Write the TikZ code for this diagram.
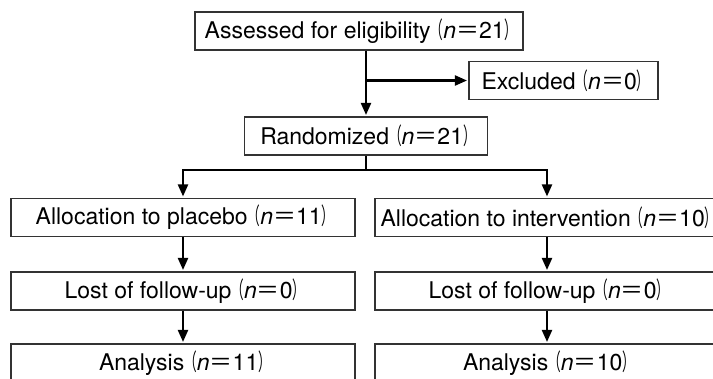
\documentclass[tikz,border=0pt]{standalone}
\usepackage{fontspec}
\setmainfont{TeX Gyre Heros}
\newfontfamily\cjk{Noto Sans CJK JP}
\newfontfamily\cjknarrow[FakeStretch=0.55]{Noto Sans CJK JP}
\usetikzlibrary{arrows.meta}

% sample size in full-width brackets
\newcommand{\nval}[1]{{\cjknarrow （}\textit{n}{\cjk ＝}#1{\cjknarrow ）}\kern-4pt}

\tikzset{
  stage/.style={draw=black!80, line width=1.1pt, minimum height=38pt, inner sep=0pt,
    font=\fontsize{23}{26}\selectfont},
  flow/.style={line width=2.2pt, ->, shorten >=1.5pt},
}

\begin{document}
\begin{tikzpicture}[x=1pt, y=-1pt, >={Triangle[width=10pt,length=12pt]}]
  \useasboundingbox (0,0) rectangle (713,378);

  \node[stage, minimum width=328pt] (assess) at (359,31) {Assessed for eligibility\nval{21}};
  \node[stage, minimum width=189pt] (excl) at (563.5,80.5) {Excluded\nval{0}};
  \node[stage, minimum width=243pt] (rand) at (366,136) {Randomized\nval{21}};

  \node[stage, minimum width=344pt] (alloc1) at (183,217.5) {Allocation to placebo\nval{11}};
  \node[stage, minimum width=344pt] (alloc2) at (547,217.5) {Allocation to intervention\nval{10}};
  \node[stage, minimum width=344pt] (lost1) at (183,291) {Lost of follow-up\nval{0}};
  \node[stage, minimum width=344pt] (lost2) at (547,291) {Lost of follow-up\nval{0}};
  \node[stage, minimum width=344pt] (ana1) at (183,363) {Analysis\nval{11}};
  \node[stage, minimum width=344pt] (ana2) at (547,363) {Analysis\nval{10}};

  \coordinate (fork) at (366,170);

  \draw[flow] (assess.south -| rand.north) -- (rand.north);
  \draw[flow] (excl.west -| rand.north) -- (excl.west);
  \draw[line width=2.2pt] (rand.south) -- (fork);
  \draw[flow] (fork) -| (alloc1.north);
  \draw[flow] (fork) -| (alloc2.north);
  \draw[flow] (alloc1) -- (lost1);
  \draw[flow] (alloc2) -- (lost2);
  \draw[flow] (lost1) -- (ana1);
  \draw[flow] (lost2) -- (ana2);
\end{tikzpicture}
\end{document}
